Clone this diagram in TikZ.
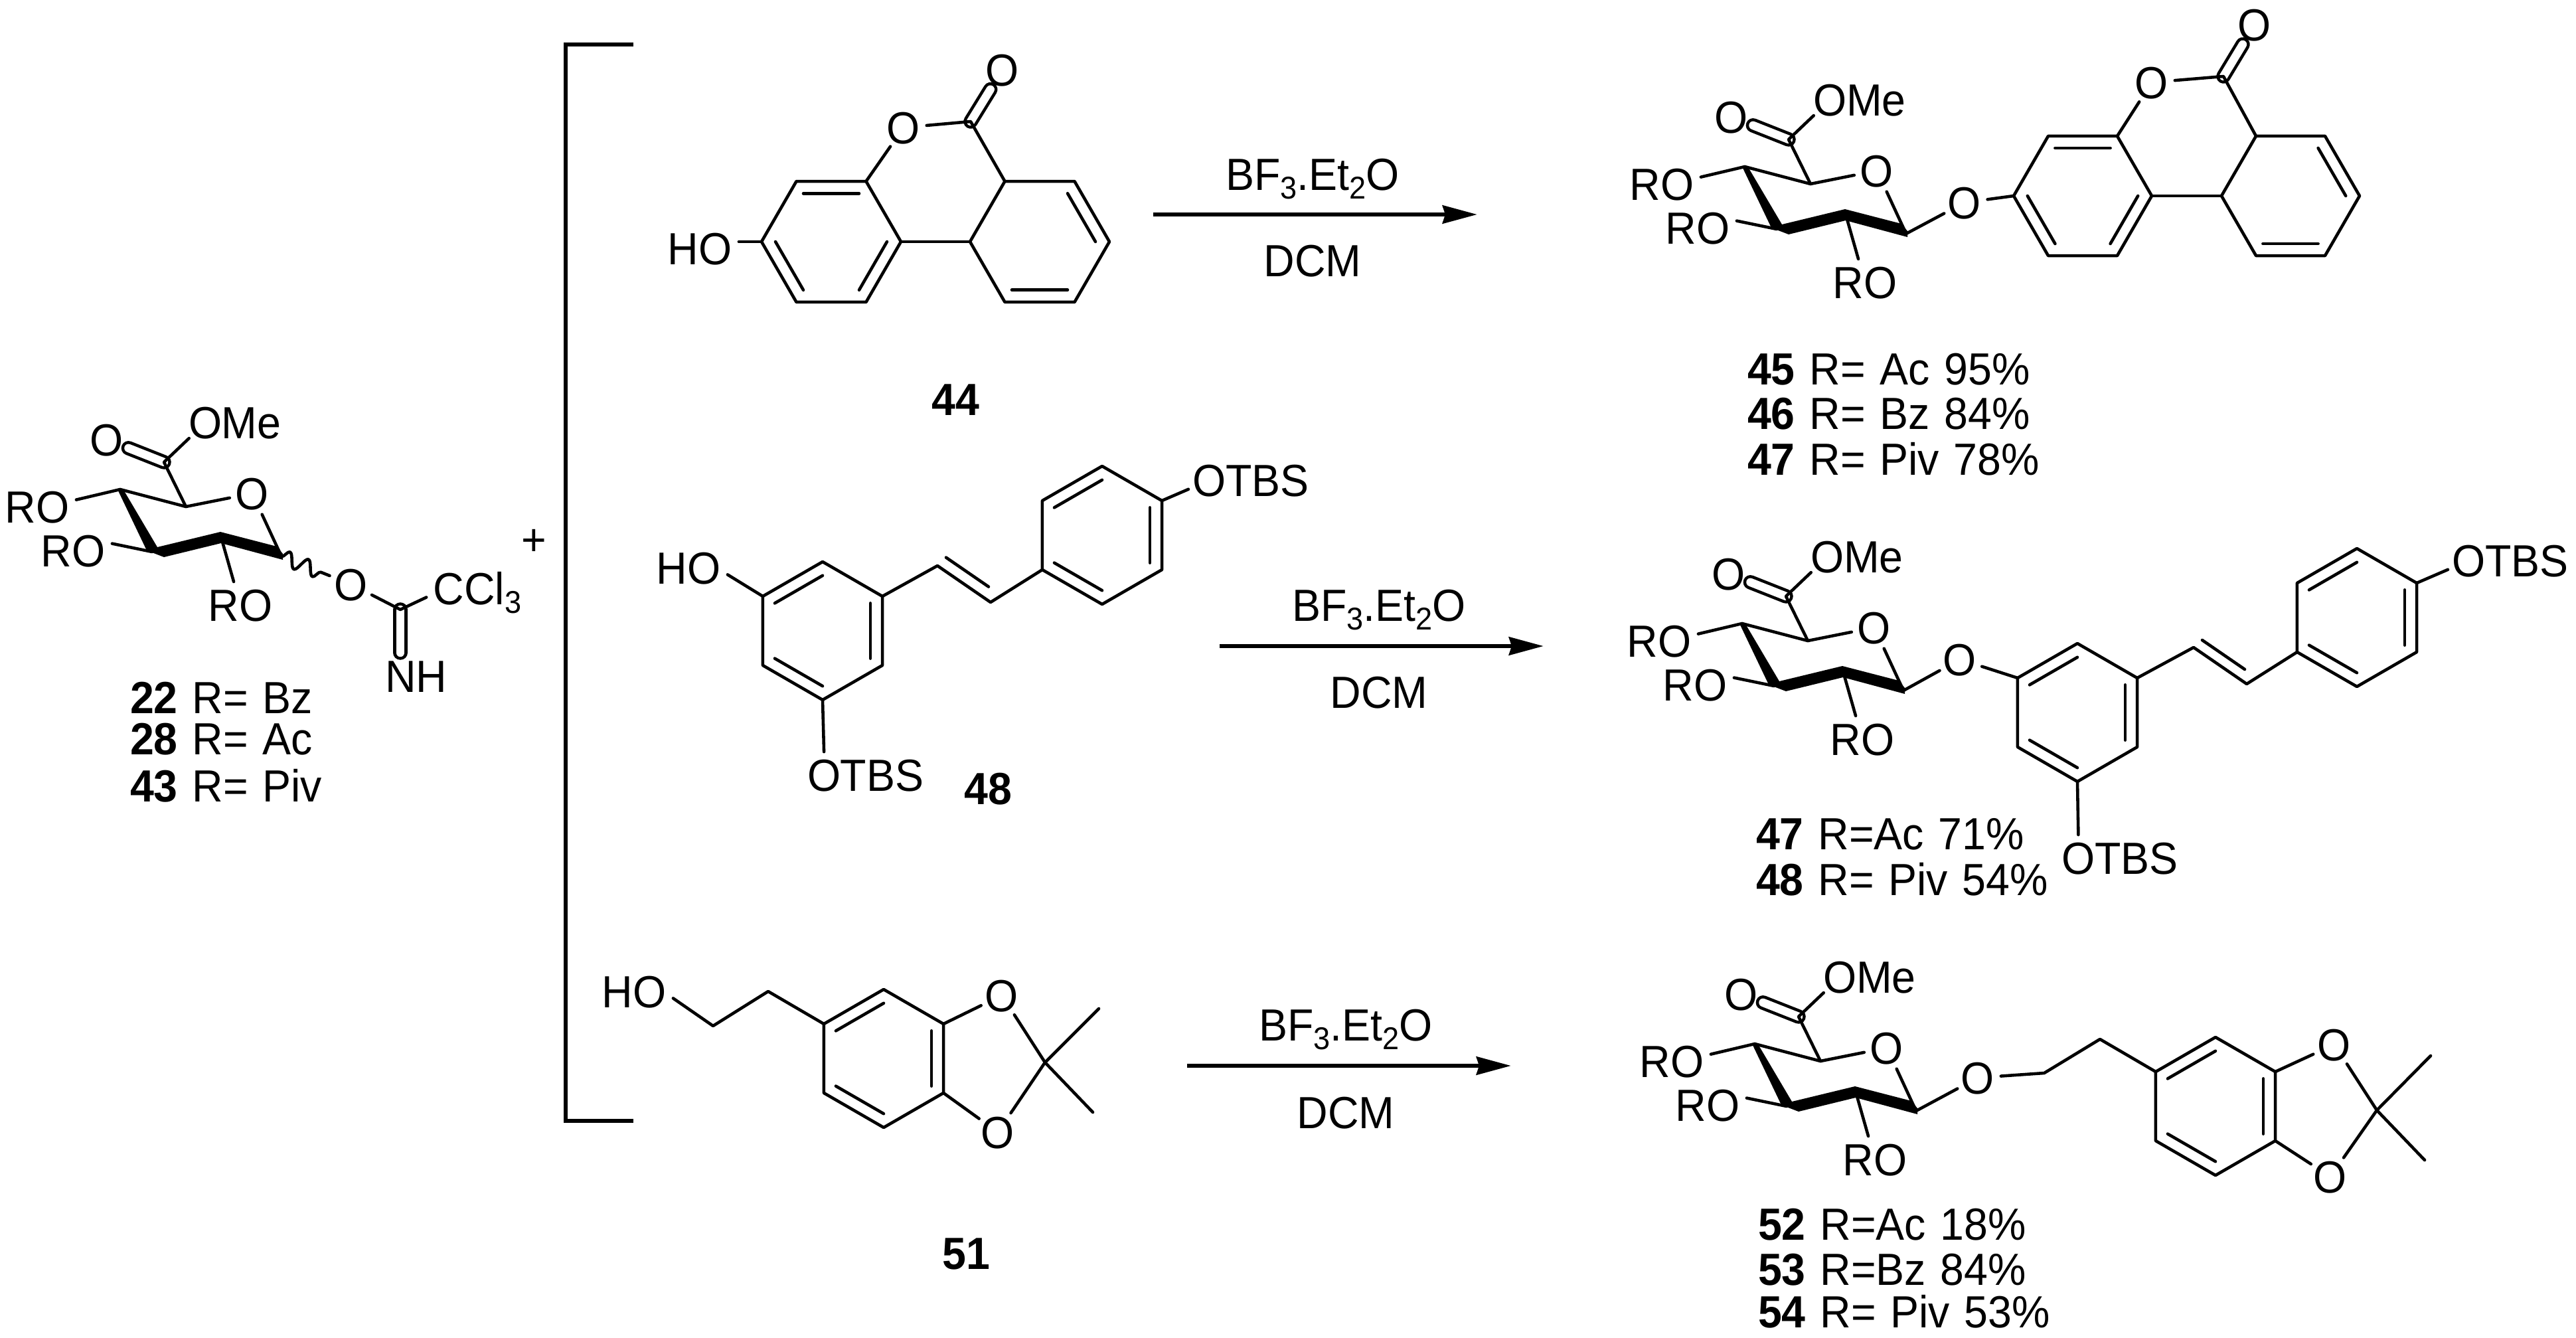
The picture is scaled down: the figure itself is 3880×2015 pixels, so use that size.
\documentclass[tikz,border=0pt]{standalone}
\usepackage{fontspec}
\setmainfont[FakeStretch=0.95]{Liberation Sans}
\usetikzlibrary{positioning,calc,arrows.meta,decorations.pathmorphing}

% hexagon: name, centre, first angle, radius
\newcommand{\hexring}[4]{
    \coordinate (#1) at (#2);
    \foreach \i in {1,...,6} {
        \coordinate (#1\i) at ($(#1)+({#3+60*\i-60}:#4)$);
    }
    \draw (#11) -- (#12) -- (#13) -- (#14) -- (#15) -- (#16) -- cycle;
}
% inner line of a double bond, pulled towards a centre
\newcommand{\inbond}[3]{
    \draw ($(#1)!.2!(#3)$) -- ($(#2)!.2!(#3)$);
}
\newcommand{\subdig}[1]{\raisebox{-3.7pt}{\fontsize{13.5}{14}\selectfont #1}}

\tikzset{
    atom/.style={inner sep=3pt, outer sep=0pt, text height=13.9pt, text depth=0pt},
    oatom/.style={circle, inner sep=0pt, outer sep=0pt, text height=13.9pt, text depth=0pt},
    tail/.style={inner sep=0pt, outer sep=0pt, text height=13.9pt, text depth=0pt},
    cmpd/.style={anchor=west, inner sep=0pt, outer sep=0pt, text height=13.9pt, text depth=0pt,
        execute at begin node={\spaceskip=6.2pt}},
    dbl/.style={double, double distance=1.24mm},
    wavy/.style={decorate, decoration={snake, segment length=0.3cm, amplitude=0.11cm}},
    rxn/.style={line width=1.9pt, line cap=butt, -{Stealth[length=0.52cm, width=0.27cm, inset=0.04cm]}},
    sugar/.pic={
        \coordinate (c4) at (0,0);
        \coordinate (c3) at (48,94);
        \coordinate (c2) at (152,72);
        \coordinate (c1) at (243,101);
        \coordinate (c5) at (99,26);
        \coordinate (ca) at (66,-41);
        \node[oatom] (ring) at (199,6) {O};
        \node[oatom] (ox) at (-20,-75) {O};
        \node[oatom] (om) at (129,-101) {O};
        \node[tail, right=-3.1pt of om] (me) {Me};
        \node[atom] (roa) at (-125,26) {RO};
        \node[atom] (rob) at (-71,92) {RO};
        \node[atom] (roc) at (181,174) {RO};
        \draw[dbl] (ca) -- (ox);
        \draw (c4) -- (c5) -- (ring) -- (c1);
        \draw (c5) -- (ca) -- (om);
        \fill (-4,0) -- (4,-1) -- (56,87) -- (151,64) -- (236,86) -- (245,97) -- (245,106)
            -- (152,81) -- (66,102) -- (40,92) -- cycle;
        \draw (c4) -- (roa.10);
        \draw (c3) -- (rob.10);
        \draw (c2) -- (roc);
    }
}

\begin{document}
\begin{tikzpicture}[x=0.01cm, y=-0.01cm, line width=1.3pt, line cap=round, line join=round,
    every node/.append style={font=\fontsize{19.3}{23}\selectfont}]
    \useasboundingbox (0,0) rectangle (3880,2015);

    % glycosyl donor
    \pic (sa) at (181,737) {sugar};
    \node[oatom] (oa) at (529,880) {O};
    \coordinate (im) at (603,918);
    \node[atom] (ccl) at (719,886) {CCl\subdig{3}};
    \node[atom] (nh) at (627,1018) {NH};
    \draw[wavy] (sac1) -- (oa);
    \draw[dbl] (im) -- (im |- nh.north);
    \draw (oa) -- (im) -- (ccl.190);
    \node[cmpd] (la1) at (196,1050) {\textbf{22} R= Bz};
    \node[cmpd] (la2) at (196,1112) {\textbf{28} R= Ac};
    \node[cmpd] (la3) at (196,1183) {\textbf{43} R= Piv};
    \node[atom] (plus) at (804,812) {+};

    % bracket
    \coordinate (br1) at (954,67);
    \coordinate (br2) at (852,67);
    \coordinate (br3) at (852,1688);
    \coordinate (br4) at (954,1688);
    \draw[line width=1.6pt, line cap=butt, line join=miter] (br1) -- (br2) -- (br3) -- (br4);

    % 44
    \hexring{a}{1252,364}{0}{105}
    \hexring{b}{1566,364}{0}{105}
    \inbond{a5}{a6}{a}
    \inbond{a4}{a3}{a}
    \inbond{a1}{a2}{a}
    \inbond{b6}{b1}{b}
    \inbond{b2}{b3}{b}
    \node[oatom] (oal) at (1361,192) {O};
    \node[oatom] (oco) at (1510,105) {O};
    \coordinate (cco) at (1462,183);
    \node[atom] (hoa) at (1054,374) {HO};
    \draw[dbl] (cco) -- (oco);
    \draw (a6) -- (oal) -- (cco) -- (b5);
    \draw (a1) -- (b4);
    \draw (hoa.east |- a4) -- (a4);
    \node[tail] (n44) at (1439,601) {\textbf{44}};

    % arrow to 45
    \coordinate (ra1) at (1737,323);
    \coordinate (ra2) at (2225,323);
    \draw[rxn] (ra1) -- (ra2);
    \node[tail] (rea1) at (1977,262) {BF\subdig{3}.Et\subdig{2}O};
    \node[tail] (sol1) at (1977,392) {DCM};

    % 45
    \pic (sb) at (2628,251) {sugar};
    \node[oatom] (ob) at (2959,305) {O};
    \hexring{e}{3137,295}{0}{104}
    \hexring{f}{3450,295}{0}{104}
    \inbond{e5}{e6}{e}
    \inbond{e4}{e3}{e}
    \inbond{e1}{e2}{e}
    \inbond{f6}{f1}{f}
    \inbond{f2}{f3}{f}
    \node[oatom] (oel) at (3241,124) {O};
    \node[oatom] (oeo) at (3396,37) {O};
    \coordinate (cec) at (3349,115);
    \draw[dbl] (cec) -- (oeo);
    \draw (sbc1) -- (ob) -- (e4);
    \draw (e6) -- (oel) -- (cec) -- (f5);
    \draw (e1) -- (f4);
    \node[cmpd] (lb1) at (2632,555) {\textbf{45} R= Ac 95\%};
    \node[cmpd] (lb2) at (2632,622) {\textbf{46} R= Bz 84\%};
    \node[cmpd] (lb3) at (2632,691) {\textbf{47} R= Piv 78\%};

    % 48
    \hexring{g}{1239,950}{30}{104}
    \hexring{h}{1660,806}{30}{104}
    \inbond{g4}{g5}{g}
    \inbond{g6}{g1}{g}
    \inbond{g3}{g2}{g}
    \inbond{h4}{h5}{h}
    \inbond{h6}{h1}{h}
    \inbond{h3}{h2}{h}
    \coordinate (va) at (1412,852);
    \coordinate (vb) at (1492,907);
    \coordinate (vc) at (1477,790);
    \draw (g6) -- (va) -- (vb) -- (h3);
    \inbond{va}{vb}{vc}
    \node[atom] (hob) at (1037,855) {HO};
    \draw (hob.-10) -- (g4);
    \node[oatom] (oh) at (1822,723) {O};
    \node[tail, right=-3.1pt of oh] (tbsh) {TBS};
    \draw (h6) -- (oh);
    \node[oatom] (og) at (1242,1167) {O};
    \node[tail, right=-3.1pt of og] (tbsg) {TBS};
    \draw (g2) -- (og);
    \node[tail] (n48) at (1488,1187) {\textbf{48}};

    % arrow to 47/48
    \coordinate (rb1) at (1837,973);
    \coordinate (rb2) at (2325,973);
    \draw[rxn] (rb1) -- (rb2);
    \node[tail] (rea2) at (2077,911) {BF\subdig{3}.Et\subdig{2}O};
    \node[tail] (sol2) at (2077,1042) {DCM};

    % 47/48 product
    \pic (sc) at (2624,939) {sugar};
    \node[oatom] (oc) at (2952,993) {O};
    \hexring{i}{3129,1073}{30}{104}
    \hexring{j}{3550,930}{30}{104}
    \inbond{i4}{i5}{i}
    \inbond{i6}{i1}{i}
    \inbond{i3}{i2}{i}
    \inbond{j4}{j5}{j}
    \inbond{j6}{j1}{j}
    \inbond{j3}{j2}{j}
    \coordinate (wa) at (3304,975);
    \coordinate (wb) at (3384,1030);
    \coordinate (wc) at (3369,920);
    \draw (scc1) -- (oc) -- (i4);
    \draw (i6) -- (wa) -- (wb) -- (j3);
    \inbond{wa}{wb}{wc}
    \node[oatom] (oj) at (3719,844) {O};
    \node[tail, right=-3.1pt of oj] (tbsj) {TBS};
    \draw (j6) -- (oj);
    \node[oatom] (oi) at (3131,1292) {O};
    \node[tail, right=-3.1pt of oi] (tbsi) {TBS};
    \draw (i2) -- (oi);
    \node[cmpd] (lc1) at (2645,1255) {\textbf{47} R=Ac 71\%};
    \node[cmpd] (lc2) at (2645,1324) {\textbf{48} R= Piv 54\%};

    % 51
    \hexring{k}{1331,1594}{30}{104}
    \inbond{k4}{k5}{k}
    \inbond{k6}{k1}{k}
    \inbond{k3}{k2}{k}
    \node[atom] (hoc) at (955,1493) {HO};
    \coordinate (ka) at (1074,1545);
    \coordinate (kb) at (1157,1493);
    \draw (hoc.-10) -- (ka) -- (kb) -- (k4);
    \node[oatom] (okt) at (1509,1499) {O};
    \node[oatom] (okb) at (1503,1705) {O};
    \coordinate (kc) at (1574,1600);
    \coordinate (kme1) at (1655,1519);
    \coordinate (kme2) at (1646,1675);
    \draw (k6) -- (okt) -- (kc) -- (okb) -- (k1);
    \draw (kme1) -- (kc) -- (kme2);
    \node[tail] (n51) at (1455,1887) {\textbf{51}};

    % arrow to 52-54
    \coordinate (rc1) at (1788,1605);
    \coordinate (rc2) at (2276,1605);
    \draw[rxn] (rc1) -- (rc2);
    \node[tail] (rea3) at (2027,1543) {BF\subdig{3}.Et\subdig{2}O};
    \node[tail] (sol3) at (2027,1675) {DCM};

    % 52-54
    \pic (sd) at (2643,1572) {sugar};
    \node[oatom] (od) at (2979,1623) {O};
    \hexring{m}{3337,1666}{30}{104}
    \inbond{m4}{m5}{m}
    \inbond{m6}{m1}{m}
    \inbond{m3}{m2}{m}
    \coordinate (ma) at (3079,1616);
    \coordinate (mb) at (3163,1565);
    \draw (sdc1) -- (od) -- (ma) -- (mb) -- (m4);
    \node[oatom] (omt) at (3516,1573) {O};
    \node[oatom] (omb) at (3510,1772) {O};
    \coordinate (mc) at (3580,1672);
    \coordinate (mme1) at (3661,1590);
    \coordinate (mme2) at (3652,1747);
    \draw (m6) -- (omt) -- (mc) -- (omb) -- (m1);
    \draw (mme1) -- (mc) -- (mme2);
    \node[cmpd] (ld1) at (2648,1843) {\textbf{52} R=Ac 18\%};
    \node[cmpd] (ld2) at (2648,1911) {\textbf{53} R=Bz 84\%};
    \node[cmpd] (ld3) at (2648,1975) {\textbf{54} R= Piv 53\%};
\end{tikzpicture}
\end{document}
